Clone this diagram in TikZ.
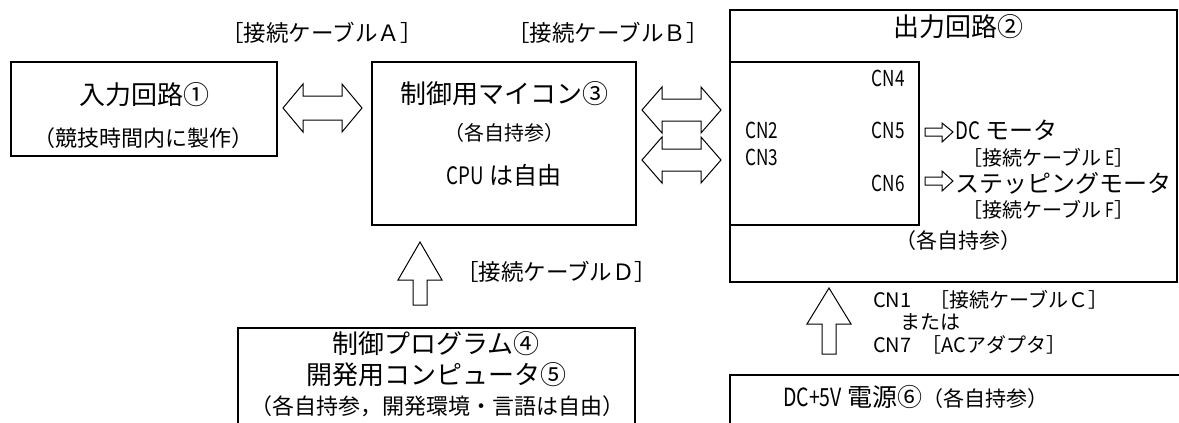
\documentclass[tikz,border=0pt]{standalone}
\usepackage{fontspec}
\setmainfont{Noto Sans CJK JP}
\newfontfamily\nar[FakeStretch=0.78]{Noto Sans CJK JP}
\begin{document}
\begin{tikzpicture}[x=1pt,y=-1pt,
  big/.style={font=\fontsize{26}{30}\selectfont,inner sep=0pt},
  mid/.style={font=\fontsize{20}{24}\selectfont,inner sep=0pt},
  lab/.style={font=\fontsize{22.5}{26}\selectfont,inner sep=0pt},
  sml/.style={font=\fontsize{20}{23}\selectfont,inner sep=0pt},
  cnl/.style={font=\fontsize{22}{26}\selectfont\nar,inner sep=0pt},
  mot/.style={font=\fontsize{24}{28}\selectfont,inner sep=0pt},
  boxline/.style={line width=2.6pt},
  inline/.style={line width=2pt},
  blk/.style={draw=black,line width=1pt,fill=white,line join=miter}]
\useasboundingbox (0,0) rectangle (1179,423);
\fill[white] (0,0) rectangle (1179,423);

% boxes
\draw[boxline] (11,62) rectangle (277,156);
\node[big] (in1) at (144,95) {入力回路①};
\node[font=\fontsize{22}{26}\selectfont,inner sep=0pt] (in2) at (144,138) {（競技時間内に製作）};

\draw[boxline] (372,62) rectangle (636,225);
\node[big] (mc1) at (504,94) {制御用マイコン③};
\node[mid] (mc2) at (504,133) {（各自持参）};
\node[font=\fontsize{24}{28}\selectfont,inner sep=0pt] (mc3) at (504,175) {{\nar CPU} は自由};

\draw[boxline] (1177,10) -- (730,10) -- (730,282) -- (1177,282) -- cycle;
\draw[inline] (730,62) -- (919,62) -- (919,225) -- (730,225);
\node[big] (out) at (958,27) {出力回路②};
\node[cnl,anchor=east] (cn4) at (905,78) {CN4};
\node[cnl,anchor=east] (cn5) at (905,130) {CN5};
\node[cnl,anchor=east] (cn6) at (905,183) {CN6};
\node[cnl,anchor=west] (cn2) at (745,130) {CN2};
\node[cnl,anchor=west] (cn3) at (745,157) {CN3};
\node[mot,anchor=west] (dcm) at (955,130) {{\nar DC} モータ};
\node[sml,anchor=west] (ce) at (962,158) {［接続ケーブル {\nar E}］};
\node[mot,anchor=west] (stm) at (955,183) {ステッピングモータ};
\node[sml,anchor=west] (cf) at (962,210) {［接続ケーブル {\nar F}］};
\node[font=\fontsize{21}{24}\selectfont,inner sep=0pt] (own) at (958,241) {（各自持参）};

\draw[boxline] (238,440) -- (238,328) -- (635,328) -- (635,440);
\node[big] (pg1) at (436,344) {制御プログラム④};
\node[big] (pg2) at (436,375) {開発用コンピュータ⑤};
\node[font=\fontsize{22}{26}\selectfont,inner sep=0pt] (pg3) at (437,406) {（各自持参，開発環境・言語は自由）};

\draw[boxline] (730,440) -- (730,375) -- (1190,375);
\node[anchor=west,inner sep=0pt] (pw) at (783,397) {{\fontsize{25}{28}\selectfont{\nar DC+5V} 電源⑥}{\fontsize{21}{24}\selectfont（各自持参）}};

% cable labels
\node[lab] (la) at (322,33) {［接続ケーブルＡ］};
\node[lab] (lb) at (608,33) {［接続ケーブルＢ］};
\node[lab,anchor=west] (ld) at (456,272) {［接続ケーブルＤ］};
\node[sml,anchor=west] (lc1) at (873,300) {CN1\hspace{0.9em}［接続ケーブルＣ］};
\node[sml,anchor=west] (lc2) at (900,322) {または};
\node[sml,anchor=west] (lc3) at (873,345) {CN7\hspace{0.5em}［ACアダプタ］};

% block arrows
\draw[blk] (283,108) -- (303,84) -- (303,96) -- (342,96) -- (342,84) -- (362,108)
  -- (342,132) -- (342,120) -- (303,120) -- (303,132) -- cycle;
\draw[blk] (642,110) -- (662,87) -- (662,99) -- (701,99) -- (701,87) -- (721,110)
  -- (701,133) -- (701,121) -- (662,121) -- (662,133) -- cycle;
\draw[blk] (642,160) -- (662,137) -- (662,149) -- (701,149) -- (701,137) -- (721,160)
  -- (701,183) -- (701,171) -- (662,171) -- (662,183) -- cycle;
\draw[blk] (420,242) -- (442,280) -- (427,280) -- (427,305) -- (413,305) -- (413,280) -- (398,280) -- cycle;
\draw[blk] (829,288) -- (851,324) -- (836,324) -- (836,354) -- (822,354) -- (822,324) -- (807,324) -- cycle;
\draw[blk] (925,128) -- (942,128) -- (942,123) -- (953,132) -- (942,142) -- (942,136) -- (925,136) -- cycle;
\draw[blk] (925,177) -- (942,177) -- (942,171) -- (953,181) -- (942,191) -- (942,185) -- (925,185) -- cycle;
\end{tikzpicture}
\end{document}
